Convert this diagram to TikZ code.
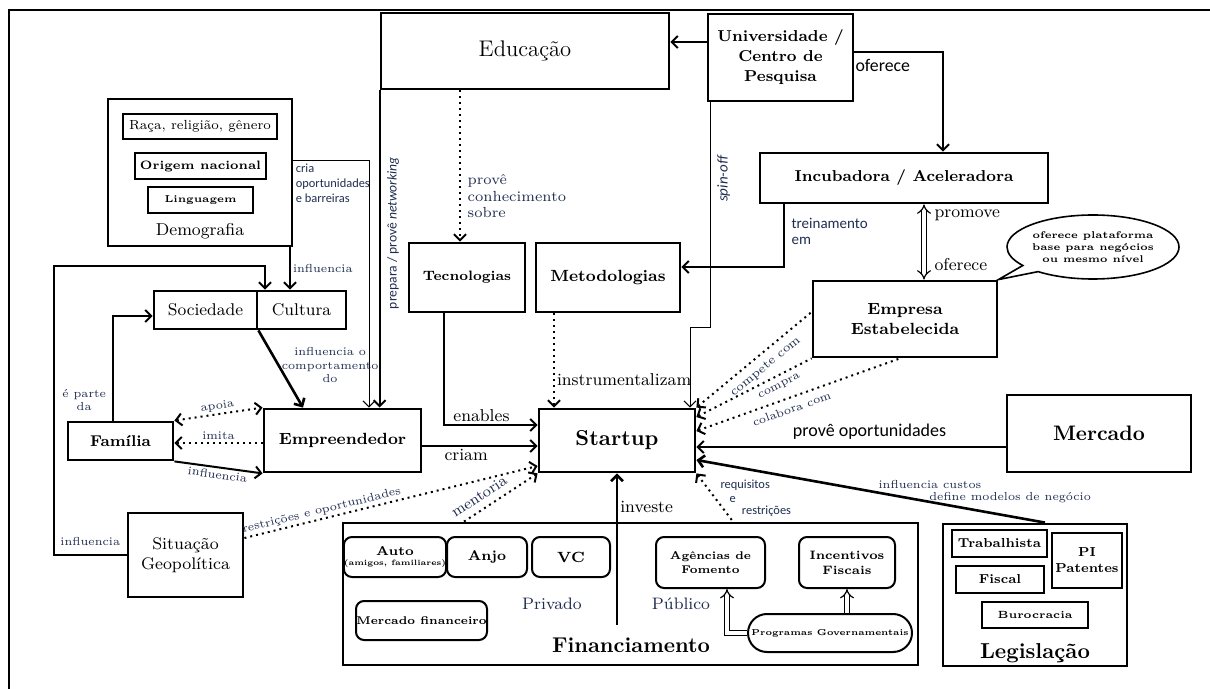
\documentclass[tikz,border=0pt]{standalone}
\usepackage{fontspec}
\newfontfamily\calib{Carlito}
\usetikzlibrary{arrows.meta,positioning,calc,shapes.geometric,shapes.callouts}
\definecolor{labc}{HTML}{1F2D50}
\newcommand\fz[2]{\fontsize{#1}{#2}\selectfont}
\tikzset{
  box/.style={draw,line width=1.4pt,inner sep=0pt,align=center},
  sbox/.style={draw,line width=0.8pt,inner sep=0pt,align=center},
  lbox/.style={draw,line width=1.2pt,inner sep=0pt,align=center},
  rbox/.style={draw,line width=1pt,rounded corners=4pt,inner sep=0pt,align=center},
  sz/.style 2 args={minimum width=#1*0.5pt,minimum height=#2*0.5pt},
  arr/.style={->,line width=1pt},
  thinarr/.style={->,line width=0.5pt},
  dots/.style={dotted,line width=1pt},
  hollow/.style={line width=0.6pt,double,double distance=1.8pt,-{Implies}},
  lbl/.style={font=\fz{5.8}{6.6},text=labc,inner sep=1pt,align=left},
  mlbl/.style={font=\fz{8.6}{10},inner sep=1pt},
  slbl/.style={font=\calib\fz{6.2}{7.6},text=labc,inner sep=1pt,align=left},
}

\begin{document}
\begin{tikzpicture}[x=0.5pt,y=-0.5pt,>={Straight Barb[length=3pt,width=6pt]}]
  \useasboundingbox (0,0) rectangle (1210,689);
  \draw[line width=1pt] (9,689) -- (9,10) -- (1210,10);

  \node[box,sz={288}{76},font=\fz{11.3}{13}] (educ) at (525,51) {Educação};
  \node[box,sz={145}{87},font=\bfseries\fz{7.9}{10}] (univ) at (780.5,57.5) {Universidade /\\Centro de\\Pesquisa};
  \node[box,sz={288}{50},font=\bfseries\fz{7.9}{9.5}] (incub) at (904,178) {Incubadora / Aceleradora};
  \node[box,sz={184}{76},font=\bfseries\fz{8.1}{10}] (empr) at (905,319) {Empresa\\Estabelecida};
  \node[box,sz={184}{77},font=\bfseries\fz{10.5}{13}] (merc) at (1099,433.5) {Mercado};
  \node[box,sz={156}{63},font=\bfseries\fz{10.8}{13}] (start) at (617,440.5) {Startup};
  \node[box,sz={116}{69},font=\bfseries\fz{6.8}{8}] (tecno) at (467,277.5) {Tecnologias};
  \node[box,sz={144}{69},font=\bfseries\fz{8.1}{9.5}] (meto) at (608,277.5) {Metodologias};
  \node[box,sz={157}{63},font=\bfseries\fz{8.1}{9.5}] (empre) at (342.5,440.5) {Empreendedor};
  \node[box,sz={105}{38},font=\bfseries\fz{7.8}{9.5}] (fam) at (120.5,441) {Família};
  \node[box,sz={103}{38},font=\fz{8.5}{9.5}] (soci) at (205.5,310) {Sociedade};
  \node[box,sz={89}{38},font=\fz{8.5}{9.5}] (cult) at (301.5,310) {Cultura};
  \node[box,sz={115}{84},font=\fz{8.4}{10}] (situ) at (185.5,555) {Situação\\Geopolítica};

  \node[box,sz={184}{147}] (demo) at (200,172.5) {};
  \node[sbox,sz={154}{25},font=\fz{6.6}{8}] (raca) at (200,126.5) {Raça, religião, gênero};
  \node[sbox,sz={131}{26},font=\bfseries\fz{6.1}{7}] (orig) at (200.5,166) {Origem nacional};
  \node[sbox,sz={105}{26},font=\bfseries\fz{5}{6}] (ling) at (200.5,200) {Linguagem};
  \node[font=\fz{8.6}{10}] (demot) at (200,231) {Demografia};

  \node[box,sz={575}{142}] (fin) at (630.5,594) {};
  \node[rbox,sz={96}{40},font=\bfseries\fz{6.3}{6}] (auto) at (395,557) {Auto\\[-1pt]{\fz{3.9}{4.5}(amigos, familiares)}};
  \node[rbox,sz={80}{40},font=\bfseries\fz{7}{8}] (anjo) at (487,557) {Anjo};
  \node[rbox,sz={78}{40},font=\bfseries\fz{7.4}{8}] (vc) at (571,557) {VC};
  \node[rbox,sz={131}{39},font=\bfseries\fz{5.6}{7}] (mfin) at (421.5,620.5) {Mercado financeiro};
  \node[rbox,sz={109}{51},font=\bfseries\fz{5.6}{7}] (agen) at (710.5,562.5) {Agências de\\Fomento};
  \node[rbox,sz={96}{51},font=\bfseries\fz{6.1}{7.5}] (ince) at (847,562.5) {Incentivos\\Fiscais};
  \node[rbox,sz={164}{38},rounded corners=9.5pt,font=\bfseries\fz{4.3}{5}] (prog) at (830,633) {Programas Governamentais};
  \node[font=\fz{8.3}{10},text=labc] (priv) at (552,604) {Privado};
  \node[font=\fz{8.3}{10},text=labc] (publ) at (681,604) {Público};
  \node[font=\bfseries\fz{10.7}{12}] (fint) at (631,645) {Financiamento};

  \node[box,sz={184}{142}] (legis) at (1035,595) {};
  \node[lbox,sz={95}{27},font=\bfseries\fz{6.5}{8}] (trab) at (999.5,543.5) {Trabalhista};
  \node[lbox,sz={70}{55},font=\bfseries\fz{6.5}{8}] (pi) at (1087,560.5) {PI\\Patentes};
  \node[lbox,sz={88}{27},font=\bfseries\fz{6.5}{8}] (fisc) at (1000,579.5) {Fiscal};
  \node[lbox,sz={106}{26},font=\bfseries\fz{5.2}{6}] (buro) at (1035,615) {Burocracia};
  \node[font=\bfseries\fz{10.8}{12}] (legt) at (1035,653) {Legislação};

  \node[ellipse callout,draw,line width=0.8pt,sz={170}{64},inner sep=0pt,align=center,
        callout absolute pointer={(empr.north east)},font=\bfseries\fz{4.9}{6}] (bubble) at (1093,247)
        {oferece plataforma\\base para negócios\\ou mesmo nível};

  \draw[arr] (univ.west |- 0,42) -- (educ.east |- 0,42);
  \draw[arr] (univ.east |- 0,52) -| (incub.north -| 943,0) node[pos=.16,below,font=\calib\fz{8.9}{10}]{oferece};
  \draw[thinarr] (univ.south -| 710,0) |- (690,328)
    node[pos=.17,rotate=90,anchor=north,font=\calib\itshape\fz{7.5}{9},text=labc]{spin-off}
    -- (start.north -| 690,0);
  \draw[hollow,{Implies}-{Implies}] (incub.south -| 924,0) -- (empr.north -| 924,0)
    node[pos=.15,right=4pt,mlbl]{promove} node[pos=.8,right=4pt,mlbl]{oferece};
  \draw[arr] (incub.south -| 784,0) |- (meto.east |- 0,267)
    node[pos=0,anchor=north west,yshift=-3pt,font=\calib\fz{7.5}{8.2},text=labc,align=left]{treinamento\\em};
  \draw[dots,->] (educ.south -| 460,0) -- (tecno.north -| 460,0)
    node[pos=.7,right,font=\fz{7.3}{8.3},text=labc,align=left]{provê\\conhecimento\\sobre};
  \draw[arr] (educ.south west) -- (empre.north -| educ.south west)
    node[pos=.45,rotate=90,anchor=north,font=\calib\fz{6.8}{8},text=labc]{prepara / provê \textit{networking}};
  \draw[thinarr] (demo.east |- 0,161) node[anchor=north west,slbl]{cria\\oportunidades\\e barreiras} -| (empre.north -| 369,0);
  \draw[arr] (demo.south -| 290,0) -- (cult.north -| 290,0) node[midway,right,lbl]{influencia};
  \draw[arr] (situ.west) -| (54,266) node[pos=.25,above=3pt,lbl]{influencia} -| (cult.north -| 265,0);
  \draw[arr] (fam.north -| 113,0) |- (soci.west |- 0,316) node[pos=.1,left=2pt,lbl,align=center]{é parte\\da};
  \draw[arr,line width=1.3pt] (soci.south east) -- (empre.north -| 303,0)
    node[pos=.45,right,lbl,align=center]{influencia o\\comportamento\\do};
  \draw[dots,<->] (fam.north east) -- (empre.north west) node[midway,above,sloped,lbl]{apoia};
  \draw[dots,->] (empre.west |- 0,443) -- (fam.east |- 0,443) node[midway,above,lbl]{imita};
  \draw[arr] (fam.south east) -- (empre.south west) node[midway,below,sloped,lbl]{influencia};
  \draw[arr] (empre.east |- 0,446) -- (start.west |- 0,446) node[pos=.38,below,mlbl]{criam};
  \draw[arr] (tecno.south -| 444,0) |- (start.west |- 0,425) node[pos=.7,above,mlbl]{enables};
  \draw[dots,->] (meto.south -| 554,0) -- (start.north -| 554,0) node[pos=.7,right,mlbl]{instrumentalizam};
  \draw[dots,<-] (start.north east) -- (empr.west |- 0,312) node[pos=.53,below=2.5pt,sloped,lbl,font=\fz{6.2}{7}]{compete com};
  \draw[dots,<-] (start.east |- 0,417) -- (empr.south west) node[pos=.68,below=2pt,sloped,lbl]{compra};
  \draw[dots,<-] (start.east |- 0,431) -- (empr.south -| 900,0) node[pos=.45,below=2pt,sloped,lbl]{colabora com};
  \draw[arr] (merc.west |- 0,447) -- (start.east |- 0,447) node[pos=.44,above,font=\calib\fz{9}{10}]{provê oportunidades};
  \draw[arr,line width=1.3pt] (legis.north -| 1045,0) -- (start.east |- 0,460)
    node[pos=.1,above=5pt,lbl]{define modelos de negócio} node[pos=.33,above=5pt,lbl]{influencia custos};
  \coordinate (invst) at (617,625);
  \draw[arr,line width=1.3pt] (invst) -- (start.south) node[pos=.78,right,mlbl]{investe};
  \draw[dots,<-] (start.south east) -- (fin.north -| 733,0)
    node[pos=.25,anchor=west,xshift=6pt,slbl]{requisitos} node[pos=.55,anchor=west,xshift=5pt,slbl]{e}
    node[pos=.78,anchor=west,xshift=7pt,slbl]{restrições};
  \draw[dots,->] (fin.north -| 464,0) -- (start.south west) node[pos=.3,above,sloped,font=\fz{7.7}{9},text=labc]{mentoria};
  \draw[dots,->] (situ.east |- 0,538) -- (start.west |- 0,466) node[pos=.27,above,sloped,lbl]{restrições e oportunidades};
  \draw[hollow] (prog.west) -| (agen.south -| 727,0);
  \draw[hollow] (prog.north -| 847,0) -- (ince.south -| 847,0);
\end{tikzpicture}
\end{document}
